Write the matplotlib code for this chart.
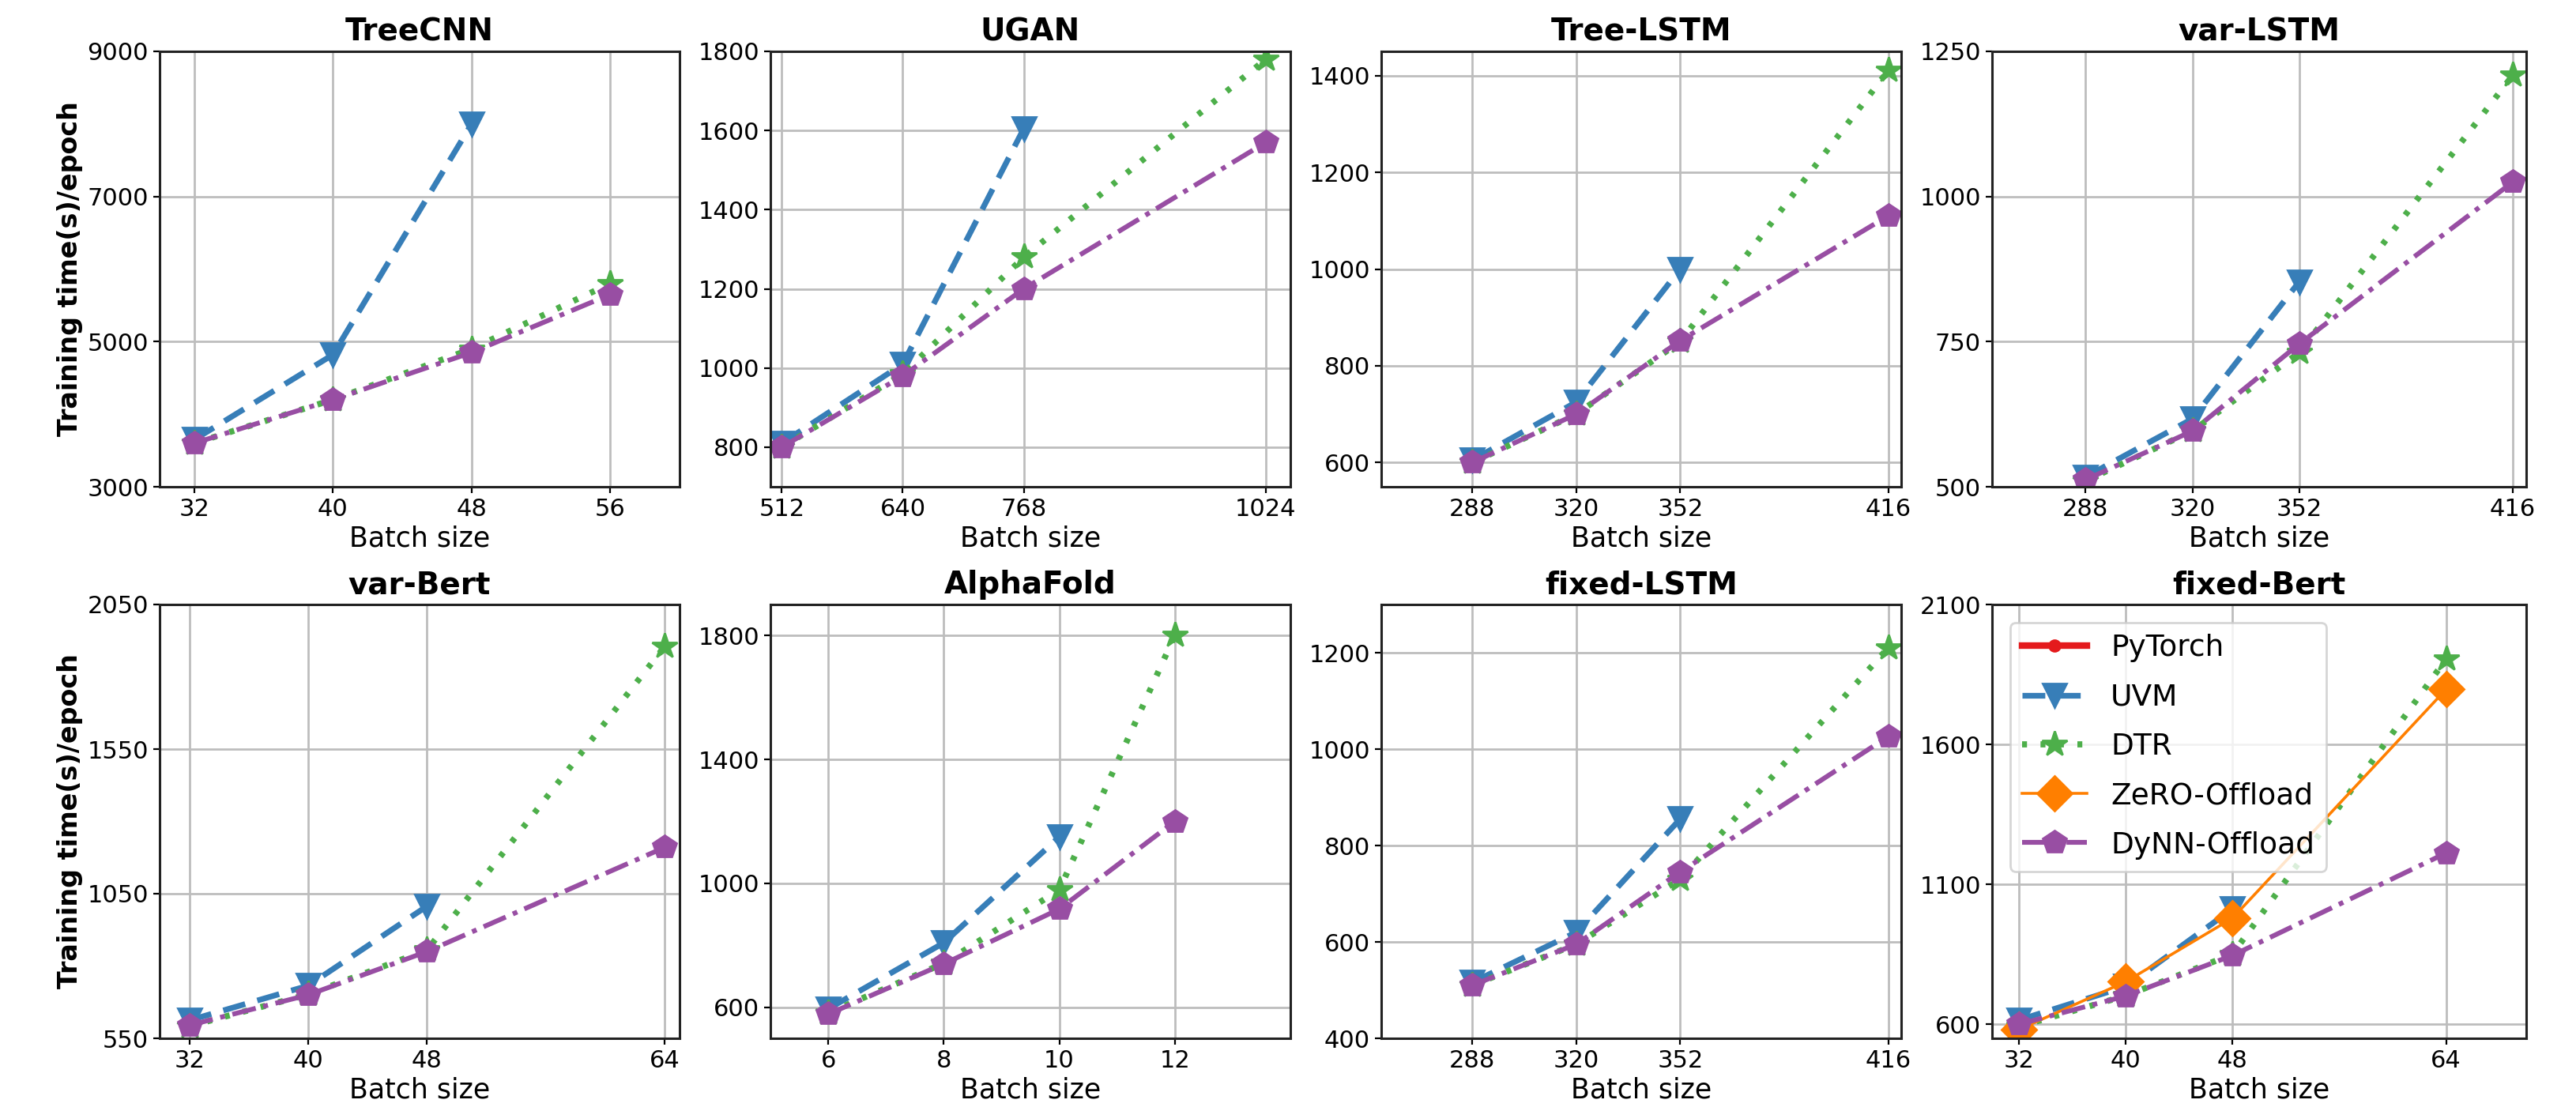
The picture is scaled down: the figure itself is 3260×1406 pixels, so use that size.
import matplotlib
matplotlib.use("Agg")
import matplotlib.pyplot as plt

# ---------------- data ----------------
titles = ["TreeCNN", "UGAN", "Tree-LSTM", "var-LSTM",
          "var-Bert", "AlphaFold", "fixed-LSTM", "fixed-Bert"]

batch_treecnn = [32, 40, 48, 56]
batch_ugan = [512, 640, 768, 1024]
batch_lstm = [288, 320, 352, 416]
batch_bert = [32, 40, 48, 64]
batch_alpha = [6, 8, 10, 12]

# TreeCNN
treecnn_uvm = [3650, 4820, 8000]
treecnn_dtr = [3600, 4200, 4900, 5800]
treecnn_dynn = [3600, 4200, 4850, 5650]
# UGAN
ugan_uvm = [810, 1010, 1605]
ugan_dtr = [800, 985, 1280, 1780]
ugan_dynn = [800, 980, 1200, 1570]
# Tree-LSTM
treelstm_uvm = [605, 725, 1000]
treelstm_dtr = [600, 700, 850, 1410]
treelstm_dynn = [600, 700, 852, 1110]
# var-LSTM
varlstm_uvm = [517, 617, 853]
varlstm_dtr = [510, 596, 731, 1209]
varlstm_dynn = [512, 596, 746, 1025]
# var-Bert
varbert_uvm = [612, 732, 1007]
varbert_dtr = [592, 702, 855, 1905]
varbert_dynn = [595, 700, 850, 1210]
# AlphaFold
alpha_uvm = [595, 808, 1150]
alpha_dtr = [582, 742, 979, 1800]
alpha_dynn = [578, 740, 917, 1200]
# fixed-LSTM
fixlstm_uvm = [516, 620, 855]
fixlstm_dtr = [510, 595, 730, 1210]
fixlstm_dynn = [510, 595, 745, 1026]
# fixed-Bert
fixbert_uvm = [615, 735, 1012]
fixbert_dtr = [592, 702, 850, 1905]
fixbert_zero = [581, 752, 979, 1797]
fixbert_dynn = [600, 701, 846, 1212]

pytorch_x = []
pytorch_y = []

yticks_list = [[3000, 5000, 7000, 9000], [800, 1000, 1200, 1400, 1600, 1800],
               [600, 800, 1000, 1200, 1400], [500, 750, 1000, 1250],
               [550, 1050, 1550, 2050], [600, 1000, 1400, 1800],
               [400, 600, 800, 1000, 1200], [600, 1100, 1600, 2100]]
ylims = [(3000, 9000), (700, 1800), (550, 1450), (500, 1250),
         (550, 2050), (500, 1900), (400, 1300), (550, 2100)]
xlims = [(30, 60), (500, 1050), (260, 420), (260, 420),
         (30, 65), (5, 14), (260, 420), (30, 70)]

panels = [
    (batch_treecnn, treecnn_uvm, treecnn_dtr, None, treecnn_dynn),
    (batch_ugan, ugan_uvm, ugan_dtr, None, ugan_dynn),
    (batch_lstm, treelstm_uvm, treelstm_dtr, None, treelstm_dynn),
    (batch_lstm, varlstm_uvm, varlstm_dtr, None, varlstm_dynn),
    (batch_bert, varbert_uvm, varbert_dtr, None, varbert_dynn),
    (batch_alpha, alpha_uvm, alpha_dtr, None, alpha_dynn),
    (batch_lstm, fixlstm_uvm, fixlstm_dtr, None, fixlstm_dynn),
    (batch_bert, fixbert_uvm, fixbert_dtr, fixbert_zero, fixbert_dynn),
]

C_RED = "#e41a1c"
C_BLUE = "#377eb8"
C_GREEN = "#4daf4a"
C_ORANGE = "#ff7f00"
C_PURPLE = "#984ea3"

plt.rcParams['font.family'] = ['DejaVu Sans']

W, H = 3260, 1406
fig = plt.figure(figsize=(W / 200, H / 200), dpi=200)

col_px = [(202, 860), (975, 1633), (1748, 2406), (2521, 3197)]
row_px = [(65, 616), (765, 1314)]

for i, (xs, uvm, dtr, zero, dynn) in enumerate(panels):
    r, c = divmod(i, 4)
    x0, x1 = col_px[c]
    y0, y1 = row_px[r]
    ax = fig.add_axes([x0 / W, 1 - y1 / H, (x1 - x0) / W, (y1 - y0) / H])
    ax.grid(True, color="#bdbdbd", linewidth=1.0, zorder=0)
    ax.set_axisbelow(True)

    ax.plot(pytorch_x, pytorch_y, color=C_RED, lw=3, marker="o", ms=5,
            label="PyTorch")
    ax.plot(xs[:len(uvm)], uvm, color=C_BLUE, lw=2.6, ls=(0, (4, 2.2)),
            marker="v", ms=11, label="UVM")
    ax.plot(xs[:len(dtr)], dtr, color=C_GREEN, lw=2.8, ls=(0, (0.8, 2.2)),
            marker="*", ms=12, label="DTR")
    if zero is not None:
        ax.plot(xs[:len(zero)], zero, color=C_ORANGE, lw=1.3, ls="-",
                marker="D", ms=11, label="ZeRO-Offload")
    else:
        ax.plot([], [], color=C_ORANGE, lw=1.3, ls="-", marker="D", ms=11,
                label="ZeRO-Offload")
    ax.plot(xs[:len(dynn)], dynn, color=C_PURPLE, lw=2.2,
            ls=(0, (5, 1.6, 1, 1.6)), marker="p", ms=11, label="DyNN-Offload")

    ax.set_xticks(xs)
    ax.set_xticklabels([str(v) for v in xs])
    ax.set_yticks(yticks_list[i])
    ax.set_xlim(*xlims[i])
    ax.set_ylim(*ylims[i])
    ax.tick_params(labelsize=11, length=3, pad=2, width=0.8)
    for s in ax.spines.values():
        s.set_color("#222222")
        s.set_linewidth(1.1)
    ax.set_title(titles[i], fontsize=14, fontweight="bold", pad=5)
    ax.set_xlabel("Batch size", fontsize=12.5, labelpad=2)
    if c == 0:
        ax.set_ylabel("Training time(s)/epoch", fontsize=12, fontweight="bold",
                      labelpad=2)
    if i == 7:
        leg = ax.legend(loc="upper left", fontsize=13.5, borderaxespad=0.6,
                        labelspacing=0.7, handlelength=2.2, framealpha=0.8)

fig.savefig("out.png", dpi=200)
